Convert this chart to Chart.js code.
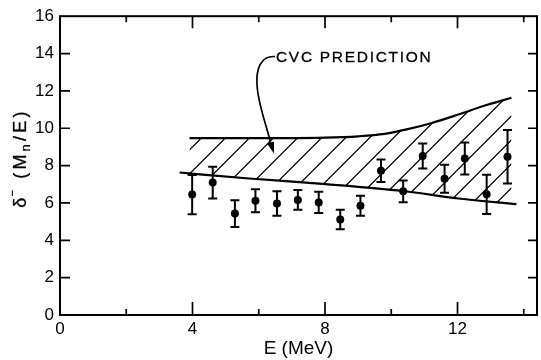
<!DOCTYPE html>
<html>
<head>
<meta charset="utf-8">
<script src="https://cdn.jsdelivr.net/npm/chart.js@4.4.1/dist/chart.umd.min.js"></script>
<style>
  html, body { margin: 0; padding: 0; background: #fff; }
  #chart { display: block; }
</style>
</head>
<body>
<canvas id="chart" width="541" height="360"></canvas>
<script>
// measured delta- values with errors
const energies    = [3.99, 4.61, 5.28, 5.90, 6.55, 7.18, 7.81, 8.46, 9.07, 9.69, 10.36, 10.95, 11.61, 12.22, 12.88, 13.51];
const deltaValues = [6.45, 7.09, 5.43, 6.12, 5.97, 6.16, 6.03, 5.11, 5.85, 7.72, 6.62, 8.51, 7.29, 8.38, 6.46, 8.47];
const deltaErrors = [1.05, 0.85, 0.72, 0.62, 0.65, 0.53, 0.57, 0.52, 0.53, 0.60, 0.58, 0.67, 0.75, 0.86, 1.05, 1.43];

// CVC prediction band edges
const cvcUpperE = [3.91, 6.0, 8.0, 9.0, 9.8, 10.5, 11.2, 12.0, 12.9, 13.63];
const cvcUpper  = [9.47, 9.47, 9.50, 9.57, 9.70, 9.95, 10.27, 10.72, 11.26, 11.63];
const cvcLowerE = [3.61, 5.71, 8.02, 10.36, 12.03, 13.78];
const cvcLower  = [7.63, 7.31, 7.01, 6.64, 6.24, 5.94];

const xLabelled = [0, 4, 8, 12];
const bandLabel = 'CVC PREDICTION';
const xTitle = 'E (MeV)';

const FONT = "'Liberation Sans', Arial, Helvetica, sans-serif";
Chart.defaults.font.family = FONT;
Chart.defaults.color = '#000';

const toPoints = (xs, ys) => xs.map((v, i) => ({ x: v, y: ys[i] }));

// diagonal hatching used inside the band
function hatchPattern() {
  const c = document.createElement('canvas');
  c.width = 24; c.height = 24;
  const g = c.getContext('2d');
  g.strokeStyle = '#000';
  g.lineWidth = 1.3;
  g.beginPath();
  for (let k = -1; k <= 2; k++) {
    const s = 3.4 + 24 * k;
    g.moveTo(s + 2, -2);
    g.lineTo(s - 26, 26);
  }
  g.stroke();
  return g.createPattern(c, 'repeat');
}

// box frame with inward ticks on all four sides
const frameTicks = {
  id: 'frameTicks',
  afterDatasetsDraw(chart) {
    const { ctx, chartArea: a, scales: { x, y } } = chart;
    ctx.save();
    ctx.strokeStyle = '#000';
    ctx.lineWidth = 2;
    ctx.strokeRect(a.left, a.top, a.right - a.left, a.bottom - a.top);
    ctx.lineWidth = 1.7;
    ctx.beginPath();
    x.ticks.forEach(t => {
      if (t.value <= 0) return;
      const px = x.getPixelForValue(t.value);
      const major = t.value % 4 === 0;
      ctx.moveTo(px, a.bottom); ctx.lineTo(px, a.bottom - (major ? 13 : 6));
      ctx.moveTo(px, a.top); ctx.lineTo(px, a.top + (major ? 12 : 6));
    });
    y.ticks.forEach(t => {
      if (t.value <= 0 || t.value >= 16) return;
      const py = y.getPixelForValue(t.value);
      ctx.moveTo(a.left, py); ctx.lineTo(a.left + 10, py);
      ctx.moveTo(a.right, py); ctx.lineTo(a.right - 9, py);
    });
    ctx.stroke();
    ctx.restore();
  }
};

// vertical error bars with caps
const errorBars = {
  id: 'errorBars',
  afterDatasetsDraw(chart) {
    const { ctx, scales: { x, y } } = chart;
    ctx.save();
    ctx.strokeStyle = '#000';
    ctx.lineWidth = 2;
    ctx.beginPath();
    energies.forEach((e, i) => {
      const px = x.getPixelForValue(e);
      const top = y.getPixelForValue(deltaValues[i] + deltaErrors[i]);
      const bot = y.getPixelForValue(deltaValues[i] - deltaErrors[i]);
      ctx.moveTo(px, top); ctx.lineTo(px, bot);
      ctx.moveTo(px - 4.5, top); ctx.lineTo(px + 4.5, top);
      ctx.moveTo(px - 4.5, bot); ctx.lineTo(px + 4.5, bot);
    });
    ctx.stroke();
    ctx.restore();
  }
};

function spacedText(ctx, str, x0, y0, spacing) {
  let cx = x0;
  for (const ch of str) {
    ctx.fillText(ch, cx, y0);
    cx += ctx.measureText(ch).width + spacing;
  }
  return cx;
}

// "CVC PREDICTION" label with the curved arrow into the band
const bandNote = {
  id: 'bandNote',
  afterDraw(chart) {
    const { ctx, scales: { x, y } } = chart;
    const ax = x.getPixelForValue(6.49);
    const ay = y.getPixelForValue(13.84);
    ctx.save();
    ctx.fillStyle = '#000';
    ctx.strokeStyle = '#000';
    ctx.font = `15.5px ${FONT}`;
    ctx.textBaseline = 'middle';
    ctx.textAlign = 'left';
    ctx.lineWidth = 0.3;
    let cx = ax + 1;
    for (const ch of bandLabel) {
      ctx.fillText(ch, cx, ay + 1);
      ctx.strokeText(ch, cx, ay + 1);
      cx += ctx.measureText(ch).width + 1.7;
    }

    ctx.lineWidth = 1.7;
    ctx.beginPath();
    ctx.moveTo(ax, ay);
    ctx.bezierCurveTo(ax - 14, ay - 1, ax - 19, ay + 12, ax - 18, ay + 28);
    ctx.bezierCurveTo(ax - 17, ay + 48, ax - 8, ay + 70, ax - 4.5, ay + 86);
    ctx.stroke();
    ctx.beginPath();
    ctx.moveTo(ax - 1, ay + 97);
    ctx.lineTo(ax - 4.5 + 3.5, ay + 85);
    ctx.lineTo(ax - 4.5 - 3.5, ay + 87);
    ctx.closePath();
    ctx.fill();
    ctx.restore();
  }
};

// rotated y title with super- and subscript
const yTitle = {
  id: 'yTitle',
  afterDraw(chart) {
    const { ctx } = chart;
    const parts = [
      { t: '\u03b4', size: 18, dy: 0, gap: 1 },
      { t: '\u2212', size: 11, dy: -10, gap: 3.2 },
      { t: ' (M', size: 18, dy: 0, gap: 3.2 },
      { t: 'n', size: 13, dy: 4, gap: 3.2 },
      { t: '/E)', size: 18, dy: 0, gap: 3.2 }
    ];
    ctx.save();
    let total = 0;
    parts.forEach(p => {
      ctx.font = `${p.size}px ${FONT}`;
      for (const ch of p.t) total += ctx.measureText(ch).width + p.gap;
    });
    ctx.translate(25.5, 158);
    ctx.rotate(-Math.PI / 2);
    ctx.fillStyle = '#000';
    ctx.strokeStyle = '#000';
    ctx.lineWidth = 0.3;
    ctx.textBaseline = 'alphabetic';
    let cx = -total / 2;
    parts.forEach(p => {
      ctx.font = `${p.size}px ${FONT}`;
      for (const ch of p.t) {
        ctx.fillText(ch, cx, p.dy);
        ctx.strokeText(ch, cx, p.dy);
        cx += ctx.measureText(ch).width + p.gap;
      }
    });
    ctx.restore();
  }
};

new Chart(document.getElementById('chart'), {
  type: 'scatter',
  data: {
    datasets: [
      {
        data: toPoints(cvcUpperE, cvcUpper),
        showLine: true,
        borderColor: '#000',
        borderWidth: 2.2,
        pointRadius: 0,
        cubicInterpolationMode: 'monotone',
        backgroundColor: hatchPattern(),
        fill: '+1'
      },
      {
        data: toPoints(cvcLowerE, cvcLower),
        showLine: true,
        borderColor: '#000',
        borderWidth: 2.2,
        pointRadius: 0,
        cubicInterpolationMode: 'monotone',
        fill: false
      },
      {
        data: toPoints(energies, deltaValues),
        pointRadius: 4,
        pointBackgroundColor: '#000',
        pointBorderWidth: 0
      }
    ]
  },
  options: {
    responsive: false,
    animation: false,
    events: [],
    layout: { padding: { top: 11, right: 2, left: 0, bottom: 0 } },
    plugins: { legend: { display: false }, tooltip: { enabled: false } },
    scales: {
      x: {
        type: 'linear',
        min: 0, max: 14.4,
        grid: { display: false, drawTicks: false },
        border: { display: false },
        ticks: {
          stepSize: 2,
          includeBounds: false,
          autoSkip: false,
          maxRotation: 0,
          padding: 4,
          font: { size: 17 },
          callback: v => (xLabelled.includes(v) ? String(v) : '')
        },
        title: { display: true, text: xTitle, font: { size: 19 }, padding: { top: 0, bottom: 0 } },
        afterFit: s => { s.height = 45; }
      },
      y: {
        min: 0, max: 16,
        grid: { display: false, drawTicks: false },
        border: { display: false },
        ticks: { stepSize: 2, padding: 6, font: { size: 17 } },
        afterFit: s => { s.width = 60; }
      }
    }
  },
  plugins: [errorBars, frameTicks, bandNote, yTitle]
});
</script>
</body>
</html>
